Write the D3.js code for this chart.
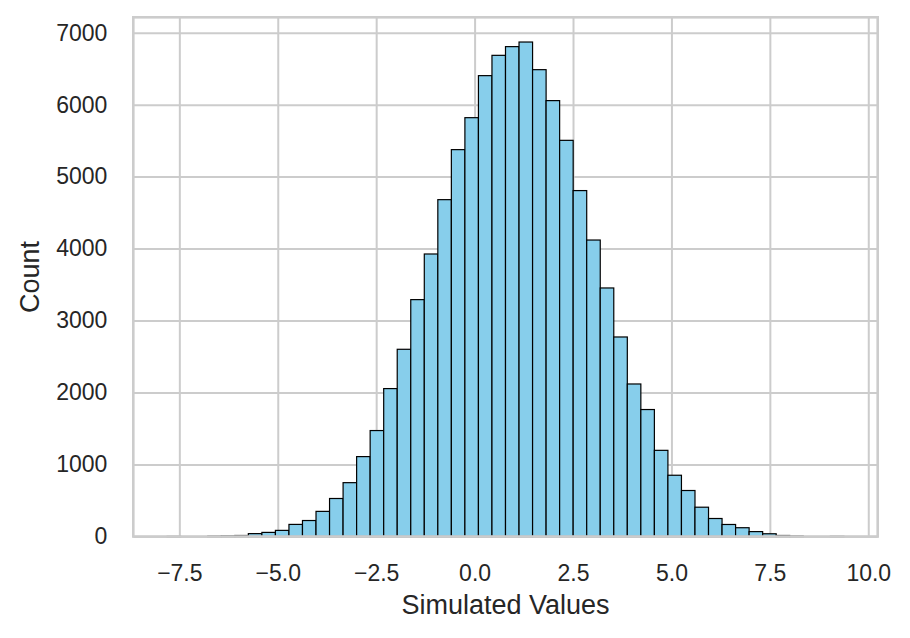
<!DOCTYPE html>
<html>
<head>
<meta charset="utf-8">
<script src="https://cdn.jsdelivr.net/npm/d3@7"></script>
<style>
    body { margin: 0; background: #ffffff; }
    #chart { width: 910px; height: 638px; }
    .chart text { font-family: "Liberation Sans", Arial, sans-serif; fill: #262626; }
    .grid line { stroke: #cccccc; stroke-width: 2; }
    .grid path { display: none; }
    .axis path, .axis line { display: none; }
    .spine { fill: none; stroke: #cccccc; stroke-width: 2.6; }
    .bar { fill: #87ceeb; stroke: #000000; stroke-width: 1.2; }
</style>
</head>
<body>
<div id="chart"></div>
<script>
// histogram of the simulated values: 50 equal bins between these edges
const binMin = -7.81;
const binMax = 9.38;
const counts = [
    1, 0, 0, 5, 9, 14, 40, 57, 85, 168,
    222, 349, 528, 748, 1110, 1472, 2055, 2601, 3291, 3925,
    4680, 5375, 5819, 6403, 6685, 6806, 6870, 6486, 6056, 5504,
    4806, 4119, 3453, 2772, 2119, 1764, 1197, 851, 639, 407,
    250, 167, 122, 68, 38, 14, 6, 0, 0, 2
];
const xTicks = [-7.5, -5.0, -2.5, 0.0, 2.5, 5.0, 7.5, 10.0];
const yTicks = [0, 1000, 2000, 3000, 4000, 5000, 6000, 7000];
const xTitle = 'Simulated Values';
const yTitle = 'Count';

class HistChart {

    constructor(selection, config = {}) {
        let self = this;
        this.selection = selection;

        this.cfg = {
            'margin': {'top': 17.3, 'right': 32.3, 'bottom': 101.5, 'left': 133.3},
            'tickfont': '23px',
            'labelfont': '27px',
            'xtickgap': 28,
            'ytickgap': 26
        };
        Object.keys(config).forEach(function(key) { self.cfg[key] = config[key]; });

        this.cfg.width = 910 - this.cfg.margin.left - this.cfg.margin.right;
        this.cfg.height = 638 - this.cfg.margin.top - this.cfg.margin.bottom;

        // bins
        let n = counts.length, w = (binMax - binMin) / n;
        this.bins = counts.map(function(c, i) {
            return {'x0': binMin + i * w, 'x1': binMin + (i + 1) * w, 'count': c};
        });

        // matplotlib style 5% padding on the data extent
        let pad = (binMax - binMin) * 0.05;
        this.xScale = d3.scaleLinear()
            .domain([binMin - pad, binMax + pad])
            .range([0, this.cfg.width]);
        this.yScale = d3.scaleLinear()
            .domain([0, d3.max(counts) * 1.05])
            .range([this.cfg.height, 0]);

        this.initGraph();
    }

    initGraph() {
        let self = this;
        let W = this.cfg.width, H = this.cfg.height;

        this.svg = this.selection.append('svg')
            .attr('class', 'chart histogram')
            .attr('width', 910)
            .attr('height', 638);

        this.g = this.svg.append('g')
            .attr('transform', 'translate(' + this.cfg.margin.left + ',' + this.cfg.margin.top + ')');

        // GRIDLINES
        this.g.append('g')
            .attr('class', 'grid grid--x')
            .attr('transform', 'translate(0,' + H + ')')
            .call(d3.axisBottom(this.xScale).tickValues(xTicks).tickSize(-H).tickFormat(''));

        this.g.append('g')
            .attr('class', 'grid grid--y')
            .call(d3.axisLeft(this.yScale).tickValues(yTicks).tickSize(-W).tickFormat(''));

        // BARS
        this.g.selectAll('.bar')
            .data(this.bins).enter()
            .append('rect')
            .attr('class', 'bar')
            .attr('x', function(d) { return self.xScale(d.x0); })
            .attr('y', function(d) { return self.yScale(d.count); })
            .attr('width', function(d) { return self.xScale(d.x1) - self.xScale(d.x0); })
            .attr('height', function(d) { return H - self.yScale(d.count); });

        // SPINES
        this.g.append('rect')
            .attr('class', 'spine')
            .attr('width', W)
            .attr('height', H);

        // AXIS
        let fmtX = function(d) { return d3.format('.1f')(d).replace('-', '\u2212'); };

        let xAxis = this.g.append('g')
            .attr('class', 'axis axis--x')
            .attr('transform', 'translate(0,' + H + ')')
            .call(d3.axisBottom(this.xScale).tickValues(xTicks).tickSize(0)
                .tickPadding(this.cfg.xtickgap).tickFormat(fmtX));
        xAxis.selectAll('text')
            .attr('dy', '0.71em')
            .style('font-size', this.cfg.tickfont);

        let yAxis = this.g.append('g')
            .attr('class', 'axis axis--y')
            .call(d3.axisLeft(this.yScale).tickValues(yTicks).tickSize(0)
                .tickPadding(this.cfg.ytickgap).tickFormat(d3.format('d')));
        yAxis.selectAll('text')
            .style('font-size', this.cfg.tickfont);

        // LABELS
        this.g.append('text')
            .attr('class', 'label')
            .attr('text-anchor', 'middle')
            .attr('x', W / 2)
            .attr('y', H + 78)
            .style('font-size', this.cfg.labelfont)
            .text(xTitle);

        this.g.append('text')
            .attr('class', 'label')
            .attr('text-anchor', 'middle')
            .attr('transform', 'translate(' + (-94) + ',' + (H / 2) + ') rotate(-90)')
            .style('font-size', this.cfg.labelfont)
            .text(yTitle);
    }
}

new HistChart(d3.select('#chart'));
</script>
</body>
</html>
